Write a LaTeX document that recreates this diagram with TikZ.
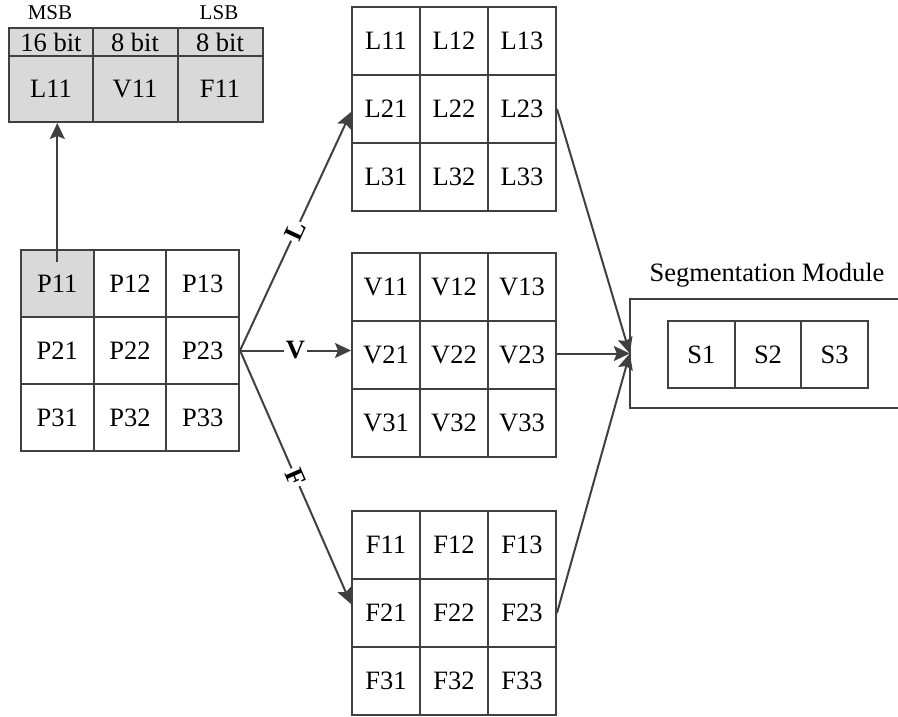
\documentclass[tikz,border=0pt]{standalone}
\usepackage{fontspec}
\setmainfont{Liberation Serif}
\usetikzlibrary{arrows.meta,calc}
\definecolor{ln}{HTML}{404040}
\definecolor{shade}{HTML}{D9D9D9}
\tikzset{
  base/.style={draw=ln, line width=2pt, inner sep=0pt, font=\fontsize{26.5}{30}\selectfont},
  pcell/.style={base, minimum width=72.7pt, minimum height=67pt},
  gcell/.style={base, minimum width=68pt, minimum height=68pt},
  scell/.style={base, minimum width=66.7pt, minimum height=67pt},
  hcell/.style={base, fill=shade, minimum width=85pt, minimum height=28pt},
  tcell/.style={base, fill=shade, minimum width=85pt, minimum height=66pt},
  arr/.style={draw=ln, line width=2pt, -{Stealth[length=16pt, width=15pt, inset=3pt]}},
  lbl/.style={fill=white, inner sep=1.5pt, font=\fontsize{26.5}{30}\selectfont\bfseries},
  txt/.style={inner sep=0pt, font=\fontsize{26.5}{30}\selectfont},
  small/.style={inner sep=0pt, font=\fontsize{21}{24}\selectfont}
}
\begin{document}
\begin{tikzpicture}[x=1pt, y=-1pt]
\useasboundingbox (0,0) rectangle (898,717);

% top bit-layout box
\node[small] (msb) at (50,13) {MSB};
\node[small] (lsb) at (219,13) {LSB};
\node[hcell] (h1) at (51,42) {16 bit};
\node[hcell] (h2) at (135,42) {8 bit};
\node[hcell] (h3) at (220,42) {8 bit};
\node[tcell] (tL) at (51,89) {L11};
\node[tcell] (tV) at (135,89) {V11};
\node[tcell] (tF) at (220,89) {F11};

% P grid
\node[pcell, fill=shade] (P11) at (57.3,283.5) {P11};
\node[pcell] (P12) at (130,283.5) {P12};
\node[pcell] (P13) at (202.7,283.5) {P13};
\node[pcell] (P21) at (57.3,350.5) {P21};
\node[pcell] (P22) at (130,350.5) {P22};
\node[pcell] (P23) at (202.7,350.5) {P23};
\node[pcell] (P31) at (57.3,417.5) {P31};
\node[pcell] (P32) at (130,417.5) {P32};
\node[pcell] (P33) at (202.7,417.5) {P33};

% L, V, F grids
\foreach \g/\yo in {L/41,V/287,F/545}{
  \foreach \r in {1,2,3}{
    \foreach \c in {1,2,3}{
      \node[gcell] (\g\r\c) at ({386+68*(\c-1)},{\yo+68*(\r-1)}) {\g\r\c};
    }
  }
}

% segmentation module
\node[txt] (segl) at (767,275) {Segmentation Module};
\node[minimum width=268pt, minimum height=109pt, inner sep=0pt] (seg) at (764,353.5) {};
\draw[draw=ln, line width=2pt] (seg.north east) -- (seg.north west) -- (seg.south west) -- (seg.south east);
\node[scell] (S1) at (701.3,354.5) {S1};
\node[scell] (S2) at (768,354.5) {S2};
\node[scell] (S3) at (834.7,354.5) {S3};

% connectors
\draw[arr] ([yshift=-13pt]P11.north) -- (P11.north |- tL.south);
\draw[arr] (P23.east) -- node[lbl, sloped, pos=0.5] {L} ([yshift=-3pt]L21.west);
\draw[arr] (P23.east) -- node[lbl, pos=0.5] {V} (V21.west |- P23.east);
\draw[arr] (P23.east) -- node[lbl, sloped, pos=0.5] {F} ([yshift=9pt]F21.west);
\draw[arr] (L23.east) -- (seg.west);
\draw[arr] (V23.east |- seg.west) -- (seg.west);
\draw[arr] (F23.east) -- (seg.west);
\end{tikzpicture}
\end{document}
